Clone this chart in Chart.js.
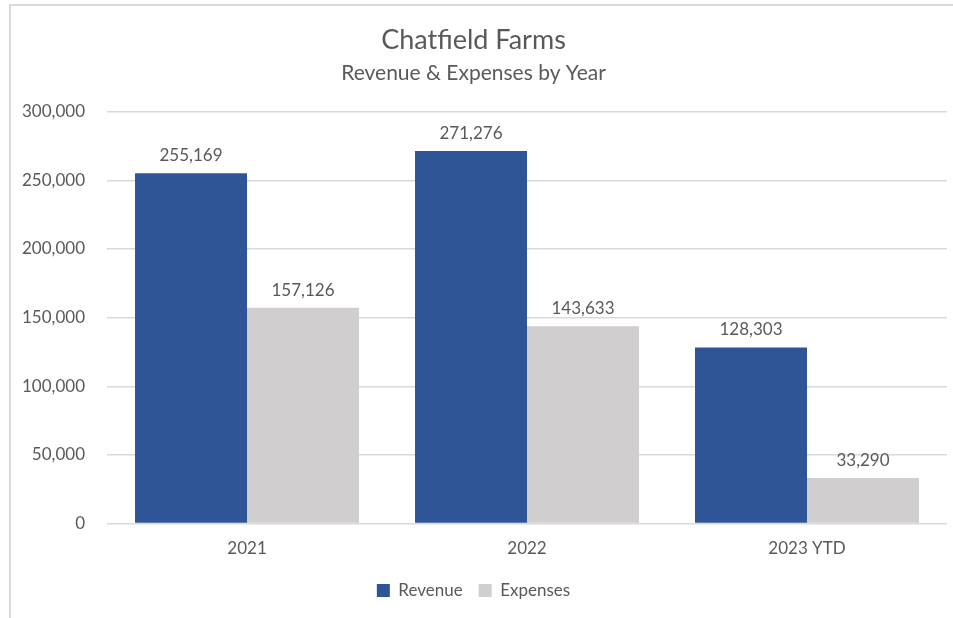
<!DOCTYPE html>
<html>
<head>
<meta charset="utf-8">
<script src="https://cdn.jsdelivr.net/npm/chart.js@4.4.1/dist/chart.umd.min.js"></script>
<style>
  html, body { margin: 0; padding: 0; background: #fff; }
  #wrap { position: relative; width: 953px; height: 618px; }
  #frame {
    position: absolute; left: 9px; top: 4px; right: 0; bottom: 0;
    border-top: 2px solid #d9d9d9; border-left: 2px solid #d9d9d9;
    pointer-events: none;
  }
</style>
</head>
<body>
<div id="wrap">
  <canvas id="barChart" width="953" height="618"></canvas>
  <div id="frame"></div>
</div>
<script>
const years = ['2021', '2022', '2023 YTD'];
const revenue = [255169, 271276, 128303];
const expenses = [157126, 143633, 33290];
const yTicks = [0, 50000, 100000, 150000, 200000, 250000, 300000];

const textColor = '#595959';
const fontFamily = 'Lato, "Open Sans", sans-serif';

// draws the value above each bar
const barLabels = {
  id: 'barLabels',
  afterDatasetsDraw(chart) {
    const c = chart.ctx;
    c.save();
    c.font = '17px ' + fontFamily;
    c.fillStyle = textColor;
    c.textAlign = 'center';
    c.textBaseline = 'bottom';
    chart.data.datasets.forEach((ds, i) => {
      chart.getDatasetMeta(i).data.forEach((bar, j) => {
        c.fillText(ds.data[j].toLocaleString('en-US'), bar.x, bar.y - 9);
      });
    });
    c.restore();
  }
};

const ctx = document.getElementById('barChart').getContext('2d');

new Chart(ctx, {
  type: 'bar',
  data: {
    labels: years,
    datasets: [{
      label: 'Revenue',
      data: revenue,
      backgroundColor: '#2f5597'
    }, {
      label: 'Expenses',
      data: expenses,
      backgroundColor: '#d0cece'
    }]
  },
  options: {
    responsive: false,
    animation: false,
    layout: { padding: { left: 0, right: 6, top: 10, bottom: 9 } },
    datasets: {
      bar: { categoryPercentage: 0.8, barPercentage: 1.0 }
    },
    plugins: {
      title: {
        display: true,
        text: 'Chatfield Farms',
        color: textColor,
        font: { family: fontFamily, size: 27, weight: 'normal' },
        padding: { top: 14, bottom: 2 }
      },
      subtitle: {
        display: true,
        text: 'Revenue & Expenses by Year',
        color: textColor,
        font: { family: fontFamily, size: 21, weight: 'normal' },
        padding: { top: 2, bottom: 26 }
      },
      legend: {
        position: 'bottom',
        labels: {
          color: textColor,
          font: { family: fontFamily, size: 17 },
          boxWidth: 13,
          boxHeight: 13,
          padding: 16
        }
      },
      tooltip: { enabled: false }
    },
    scales: {
      x: {
        grid: { display: false },
        border: { display: false },
        ticks: {
          color: textColor,
          font: { family: fontFamily, size: 17 },
          padding: 7
        }
      },
      y: {
        min: 0,
        max: 300000,
        afterBuildTicks(axis) {
          axis.ticks = yTicks.map(v => ({ value: v }));
        },
        grid: { color: '#d9d9d9', lineWidth: 1.5, drawTicks: false },
        border: { display: false },
        ticks: {
          color: textColor,
          font: { family: fontFamily, size: 17 },
          padding: 22,
          callback: v => v.toLocaleString('en-US')
        }
      }
    }
  },
  plugins: [barLabels]
});
</script>
</body>
</html>
